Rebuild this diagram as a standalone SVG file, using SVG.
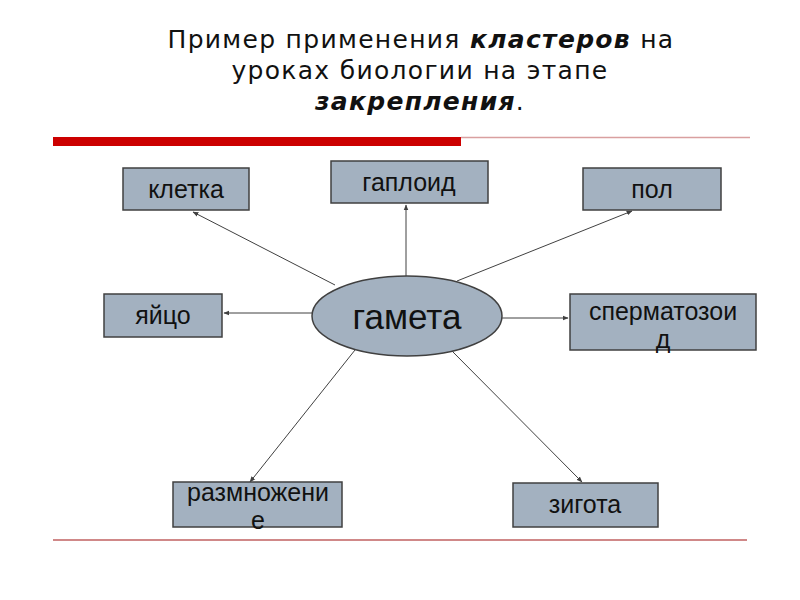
<svg xmlns="http://www.w3.org/2000/svg" width="800" height="600" viewBox="0 0 800 600">
<defs>
<style>
.box{fill:#a3b1c0;stroke:#404040;stroke-width:1.5}
.lbl{font-family:"Liberation Sans",Arial,sans-serif;font-size:25px;fill:#111;text-anchor:middle}
.title{font-family:"DejaVu Sans",Verdana,sans-serif;font-size:25px;letter-spacing:1.3px;fill:#111;text-anchor:middle}
.em{font-weight:bold;font-style:italic}
.con{stroke:#404040;stroke-width:1;fill:none;marker-end:url(#ah)}
</style>
<marker id="ah" viewBox="0 0 10 10" refX="9" refY="5" markerWidth="6" markerHeight="6" orient="auto" markerUnits="userSpaceOnUse">
<path d="M0,1 L10,5 L0,9 z" fill="#404040"/>
</marker>
</defs>
<rect width="800" height="600" fill="#fff"/>
<g id="title">
<text class="title" x="421" y="48">Пример применения <tspan class="em">кластеров</tspan> на</text>
<text class="title" x="420" y="79">уроках биологии на этапе</text>
<text class="title" x="420" y="110"><tspan class="em">закрепления</tspan>.</text>
</g>
<g id="decor">
<rect x="53" y="137" width="408" height="9" fill="#cc0000"/>
<line x1="461" y1="137.5" x2="750" y2="137.5" stroke="#d9a0a0" stroke-width="1.5"/>
<line x1="53" y1="540" x2="747" y2="540" stroke="#d08888" stroke-width="2"/>
</g>
<g id="connectors">
<line class="con" x1="335" y1="285" x2="193" y2="212"/>
<line class="con" x1="406" y1="276" x2="406" y2="205"/>
<line class="con" x1="457" y1="281" x2="632" y2="211"/>
<line class="con" x1="312" y1="313" x2="224" y2="313"/>
<line class="con" x1="502" y1="318" x2="568" y2="318"/>
<line class="con" x1="355" y1="350" x2="250" y2="482"/>
<line class="con" x1="451" y1="350" x2="582" y2="482"/>
</g>
<g id="n-gameta">
<ellipse class="box" cx="407" cy="316" rx="95" ry="40"/>
<text class="lbl" x="407" y="329" style="font-size:35px">гамета</text>
</g>
<g id="n-kletka">
<rect class="box" x="123" y="168" width="126" height="42"/>
<text class="lbl" x="186" y="198">клетка</text>
</g>
<g id="n-gaploid">
<rect class="box" x="331" y="161" width="157" height="42"/>
<text class="lbl" x="409" y="191">гаплоид</text>
</g>
<g id="n-pol">
<rect class="box" x="583" y="168" width="138" height="42"/>
<text class="lbl" x="652" y="198">пол</text>
</g>
<g id="n-yaitso">
<rect class="box" x="104" y="294" width="118" height="43"/>
<text class="lbl" x="163" y="324">яйцо</text>
</g>
<g id="n-spermatozoid">
<rect class="box" x="570" y="294" width="186" height="56"/>
<text class="lbl" x="663" y="320">сперматозои</text>
<text class="lbl" x="663" y="348">д</text>
</g>
<g id="n-razmnozhenie">
<rect class="box" x="173" y="482" width="169" height="45"/>
<text class="lbl" x="258" y="501">размножени</text>
<text class="lbl" x="258" y="529">е</text>
</g>
<g id="n-zigota">
<rect class="box" x="513" y="483" width="145" height="44"/>
<text class="lbl" x="585" y="513">зигота</text>
</g>
</svg>
